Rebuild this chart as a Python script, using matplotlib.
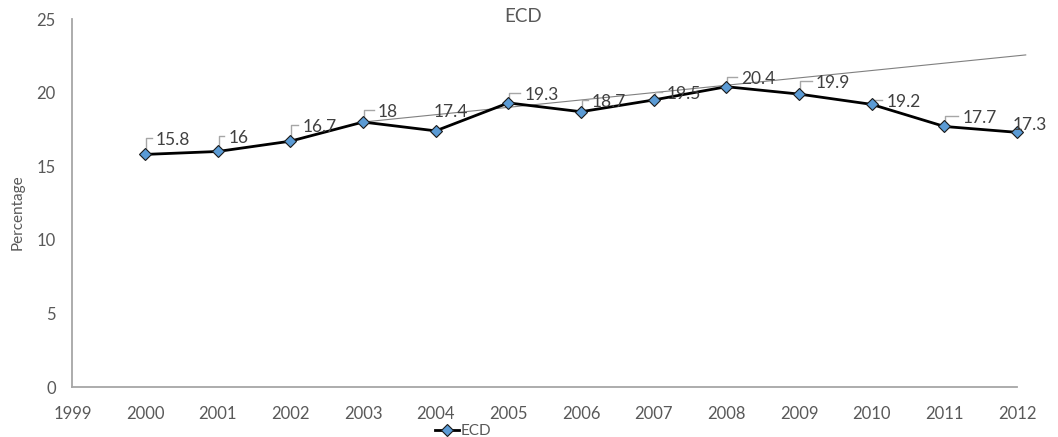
import matplotlib
matplotlib.use("Agg")
import matplotlib.pyplot as plt
import matplotlib.transforms as mtransforms

plt.rcParams['font.family'] = ['Lato', 'DejaVu Sans']

# ECD percentage by year
years = [2000, 2001, 2002, 2003, 2004, 2005, 2006, 2007, 2008, 2009, 2010, 2011, 2012]
ecd = [15.8, 16.0, 16.7, 18.0, 17.4, 19.3, 18.7, 19.5, 20.4, 19.9, 19.2, 17.7, 17.3]
value_labels = ["15.8", "16", "16.7", "18", "17.4", "19.3", "18.7", "19.5",
                "20.4", "19.9", "19.2", "17.7", "17.3"]

# linear trend line drawn from 2003 onward
trend_years = [2003, 2012.12]
trend_values = [18.0, 22.56]

x_ticks = list(range(1999, 2013))
y_ticks = [0, 5, 10, 15, 20, 25]

# label placement: offset (pixels) of text left edge / text centre from each marker
label_dx = [11, 11, 12, 15, -2, 16, 11, 13, 15, 17, 15, 18, -4]
label_dy = [14, 13, 14, 10, 19, 8, 10, 6, 8, 11, 2, 8, 7]
has_leader = [True, True, True, True, False, True, True, True, True, True, True, True, False]

W, H = 1058, 437
fig = plt.figure(figsize=(W / 100, H / 100), dpi=100)
left, right, bottom, top = 72.4, 1017.0, 387.0, 19.0
ax = fig.add_axes([left / W, 1 - bottom / H, (right - left) / W, (bottom - top) / H])

text_col = '#595959'
label_col = '#404040'
axis_col = '#a6a6a6'

ax.plot(trend_years, trend_values, color='#808080', lw=0.8, zorder=2, clip_on=False)
ax.plot(years, ecd, color='black', lw=2.0, marker='D', markersize=6.5,
        markerfacecolor='#5b9bd5', markeredgecolor='#1a1a1a', markeredgewidth=0.8,
        zorder=4, clip_on=False, label='ECD')

for x, y, txt, dx, dy, lead in zip(years, ecd, value_labels, label_dx, label_dy, has_leader):
    ax.annotate(txt, (x, y), xytext=(dx * 0.72, dy * 0.72), textcoords='offset points',
                ha='left', va='center', fontsize=12.5, color=label_col, zorder=5,
                annotation_clip=False)
    if lead:
        hy = dy + 2
        sy = min(6, hy)
        tr = mtransforms.ScaledTranslation(x, y, ax.transData)
        ax.plot([1, 1, dx - 4.5], [sy, hy, hy], transform=tr, color='#a6a6a6',
                lw=1.0, zorder=3, clip_on=False)

ax.set_xlim(1999, 2012)
ax.set_ylim(0, 25)
ax.set_xticks(x_ticks)
ax.set_xticklabels([str(v) for v in x_ticks])
ax.set_yticks(y_ticks)
ax.tick_params(axis='both', length=0, labelsize=12, colors=text_col)
ax.tick_params(axis='x', pad=14)
ax.tick_params(axis='y', pad=12)

for s in ('top', 'right'):
    ax.spines[s].set_visible(False)
for s in ('left', 'bottom'):
    ax.spines[s].set_color(axis_col)
    ax.spines[s].set_linewidth(1.3)

fig.text(18 / W, 1 - 212 / H, 'Percentage', rotation=90, ha='center', va='center',
         fontsize=11, color=text_col)
fig.text(523 / W, 1 - 17 / H, 'ECD', ha='center', va='center', fontsize=13.5, color=text_col)

leg = fig.legend(loc='center', bbox_to_anchor=(463 / W, 1 - 431 / H), frameon=False,
                 fontsize=11, handlelength=1.6, handletextpad=0.1, borderpad=0)
for t in leg.get_texts():
    t.set_color(text_col)

fig.savefig('out.png', dpi=100)
